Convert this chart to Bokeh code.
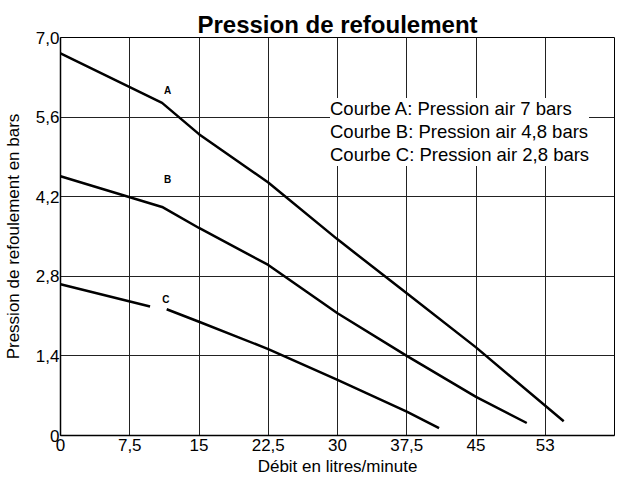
from bokeh.plotting import figure
from bokeh.models import Legend, LegendItem, FixedTicker, ColumnDataSource, Title
from bokeh.core.properties import value
from bokeh.embed import file_html
from bokeh.resources import INLINE

# Data
xA = [0, 11, 15, 22.5, 30, 37.5, 45, 54.5]
yA = [6.72, 5.85, 5.3, 4.45, 3.45, 2.5, 1.55, 0.25]
xB = [0, 11, 15, 22.5, 30, 37.5, 45, 50.5]
yB = [4.56, 4.02, 3.65, 3.0, 2.15, 1.4, 0.68, 0.22]
xC1 = [0, 9.7]
yC1 = [2.66, 2.27]
xC2 = [11.5, 15, 22.5, 30, 37.5, 41]
yC2 = [2.22, 2.0, 1.52, 0.98, 0.42, 0.13]
curve_names = ["A", "B", "C"]
curve_label_x = [11.6, 11.6, 11.4]
curve_label_y = [6.06, 4.5, 2.4]
legend_texts = ["Courbe A: Pression air 7 bars",
                "Courbe B: Pression air 4,8 bars",
                "Courbe C: Pression air 2,8 bars"]
x_ticks = [0, 7.5, 15, 22.5, 30, 37.5, 45, 52.5]
x_tick_labels = ["0", "7,5", "15", "22,5", "30", "37,5", "45", "53"]
y_ticks = [0, 1.4, 2.8, 4.2, 5.6, 7.0]
y_tick_labels = ["0", "1,4", "2,8", "4,2", "5,6", "7,0"]

FONT = "Liberation Sans"

p = figure(width=616, height=477, output_backend="svg", toolbar_location=None,
           x_range=(0, 60), y_range=(0, 7.0),
           min_border_left=55, min_border_right=2, min_border_top=0, min_border_bottom=0)

p.add_layout(Title(text="Pression de refoulement", align="center", text_font=FONT,
                   text_font_size="24px", text_font_style="bold", text_color="black",
                   standoff=0), "above")
p.add_layout(Title(text=" ", text_font_size="6px", standoff=0), "above")

p.outline_line_color = "black"
p.outline_line_width = 1

p.xaxis.ticker = FixedTicker(ticks=x_ticks)
p.xaxis.major_label_overrides = {t: l for t, l in zip(x_ticks, x_tick_labels)}
p.yaxis.ticker = FixedTicker(ticks=y_ticks)
p.yaxis.major_label_overrides = {t: l for t, l in zip(y_ticks, y_tick_labels)}

for ax in (p.xaxis, p.yaxis):
    ax.major_tick_line_color = None
    ax.minor_tick_line_color = None
    ax.major_tick_in = 0
    ax.major_tick_out = 0
    ax.axis_line_color = "black"
    ax.axis_line_width = 1.5
    ax.major_label_text_font = FONT
    ax.major_label_text_font_size = "17px"
    ax.major_label_text_color = "black"
    ax.axis_label_text_font = FONT
    ax.axis_label_text_font_size = "17px"
    ax.axis_label_text_font_style = "normal"
    ax.axis_label_text_color = "black"

p.xaxis.major_label_standoff = 3
p.yaxis.major_label_standoff = 1
p.yaxis.axis_label = "Pression de refoulement en bars"
p.yaxis.axis_label_standoff = 10

p.add_layout(Title(text="Débit en litres/minute", align="center", text_font=FONT,
                   text_font_size="17px", text_font_style="normal", text_color="black",
                   standoff=3), "below")

p.grid.grid_line_color = "#222222"
p.grid.grid_line_alpha = 1.0
p.grid.grid_line_width = 1

lw = 2.5
p.line(xA, yA, line_color="black", line_width=lw)
p.line(xB, yB, line_color="black", line_width=lw)
p.line(xC1, yC1, line_color="black", line_width=lw)
p.line(xC2, yC2, line_color="black", line_width=lw)

lab_src = ColumnDataSource(dict(x=curve_label_x, y=curve_label_y, t=curve_names))
p.text(x="x", y="y", text="t", source=lab_src, text_font=value(FONT),
       text_font_size="10px", text_font_style="bold", text_color="black",
       text_align="center", text_baseline="middle")

dummy = p.line(x=[], y=[], line_alpha=0)
items = [LegendItem(label=t, renderers=[dummy]) for t in legend_texts]
legend = Legend(items=items, location=(270, 269), glyph_width=0, glyph_height=20,
                label_standoff=0, padding=8, margin=0, spacing=1, label_height=20,
                label_text_font=FONT, label_text_font_size="18.5px", label_text_color="black",
                background_fill_color="white", background_fill_alpha=1.0,
                border_line_color=None)
p.add_layout(legend, "center")

open("out.html", "w").write(file_html(p, INLINE))
